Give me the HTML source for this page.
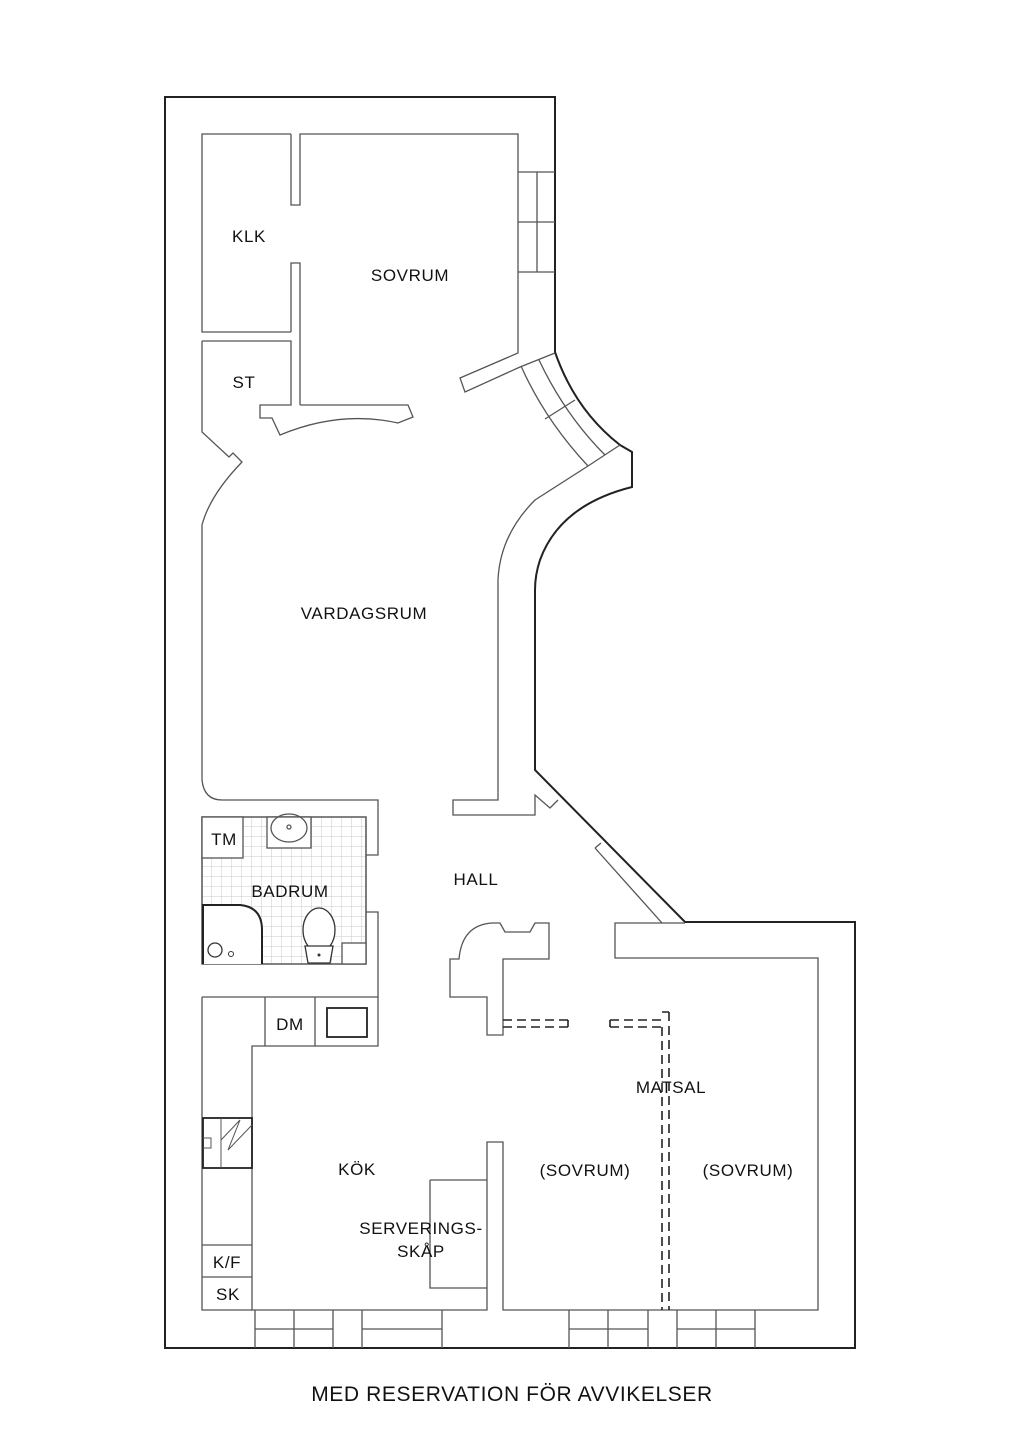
<!DOCTYPE html>
<html><head><meta charset="utf-8"><style>
html,body{margin:0;padding:0;background:#fff}
svg{display:block}
text{font-family:"Liberation Sans",sans-serif;font-size:17px;fill:#111;text-anchor:middle;letter-spacing:0.6px}
</style></head><body>
<svg width="1024" height="1448" viewBox="0 0 1024 1448" xmlns="http://www.w3.org/2000/svg">
<defs>
<pattern id="tile" width="10" height="10" patternUnits="userSpaceOnUse" x="202" y="817">
<path d="M10 0V10M0 10H10" stroke="#c8c8c8" stroke-width="1" fill="none"/>
</pattern>
</defs>
<path d="M165 97 H555 V352 Q575 410 620 445 L632 452 V487 Q560 505 540 560 Q535 575 535 590 V770 L685 922 H855 V1348 H165 Z" fill="none" stroke="#222" stroke-width="2"/>
<g fill="none" stroke="#555" stroke-width="1.3">
<path d="M291 134 H202 V332 H291"/>
<path d="M291 134 V205 H300 V134 H518 V353 L460 378 L465 392 L520 367 L555 353"/>
<path d="M291 332 V263 H300 V405"/>
<path d="M202 341 H291 V405 H260 V418 H272 L280 435 Q340 410 398 423 L413 417 L408 405 H300"/>
<path d="M202 341 V432 L229 457 L233 453 L242 462 Q210 495 202 525 V780 Q204 800 222 800 H378 V855 H366"/>
<path d="M518 172 H555 M518 222 H555 M518 272 H555 M537 172 V272"/>
<path d="M521 366 Q545 420 588 466 M539 360 Q565 415 605 455 M545 419 L575 400 M588 466 L620 445"/>
<path d="M588 466 L535 500 Q500 535 498 580 V800 H453 V815 H535 V795 L550 808 L558 800"/>
<path d="M595 848 L601 843 M595 848 L662 923"/>
<rect x="202" y="817" width="164" height="147" fill="url(#tile)"/>
<path d="M202 817 H366 V964 H202 Z"/>
<path d="M366 912 H378 V997"/>
<rect x="202" y="817" width="41" height="41" fill="#fff"/>
<rect x="267" y="817" width="44" height="31" fill="#fff"/>
<ellipse cx="289" cy="828" rx="18" ry="14"/>
<circle cx="289" cy="827" r="2"/>
<rect x="342" y="943" width="24" height="21" fill="#fff"/>
<path d="M202 997 H378 V1046 H252 V1310 H487 V1142 H503 V1310 H818 V958 H615 V923 H685"/>
<path d="M202 997 V1310 H252 M265 997 V1046 M315 997 V1046"/>
<rect x="327" y="1008" width="40" height="29" stroke="#222" stroke-width="1.8"/>
<path d="M202 1245 H252 M202 1277 H252"/>
<path d="M430 1180 H487 M430 1180 V1288 H487"/>
<path d="M450 997 V959 H459 Q462 925 492 923 H500 L505 932 H530 L535 923 H549 V959 H503 V1035 H487 V997 Z"/>
<path d="M255 1310 V1348 M294 1310 V1348 M333 1310 V1348 M362 1310 V1348 M442 1310 V1348 M255 1329 H333 M362 1329 H442"/>
<path d="M569 1310 V1348 M608 1310 V1348 M648 1310 V1348 M677 1310 V1348 M716 1310 V1348 M755 1310 V1348 M569 1329 H648 M677 1329 H755"/>
</g>
<path d="M203 964 V905 H240 Q262 907 262 930 V964" fill="#fff" stroke="#222" stroke-width="2"/>
<circle cx="215" cy="950" r="7" fill="none" stroke="#333" stroke-width="1.3"/>
<circle cx="231" cy="954" r="2.5" fill="none" stroke="#333"/>
<ellipse cx="319" cy="930" rx="16" ry="22" fill="#fff" stroke="#333" stroke-width="1.3"/>
<path d="M305 946 H333 L330 963 H308 Z" fill="#fff" stroke="#333" stroke-width="1.3"/>
<circle cx="319" cy="955" r="1.5" fill="#333"/>
<rect x="203" y="1118" width="49" height="50" fill="none" stroke="#222" stroke-width="1.8"/>
<path d="M221 1118 V1168 M203 1138 H211 V1148 H203 M221 1140 L240 1120 M240 1120 L228 1150 L252 1125" fill="none" stroke="#555"/>
<g stroke="#222" stroke-width="1.6" stroke-dasharray="9 5" fill="none">
<path d="M503 1020 H568 M503 1027 H568"/>
<path d="M610 1020 H662 M610 1027 H662"/>
<path d="M662 1027 V1310 M669 1012 V1310"/>
</g>
<path d="M568 1020 V1027 M610 1020 V1027 M662 1012 H669" stroke="#222" stroke-width="1.6"/>
<text x="249" y="242">KLK</text>
<text x="410" y="281">SOVRUM</text>
<text x="244" y="388">ST</text>
<text x="364" y="619">VARDAGSRUM</text>
<text x="224" y="845">TM</text>
<text x="290" y="897">BADRUM</text>
<text x="476" y="885">HALL</text>
<text x="290" y="1030">DM</text>
<text x="671" y="1093">MATSAL</text>
<text x="357" y="1175">KÖK</text>
<text x="585" y="1176">(SOVRUM)</text>
<text x="748" y="1176">(SOVRUM)</text>
<text x="421" y="1234">SERVERINGS-</text>
<text x="421" y="1257">SKÅP</text>
<text x="227" y="1268">K/F</text>
<text x="228" y="1300">SK</text>
<text x="512" y="1401" style="font-size:21px;letter-spacing:0.6px">MED RESERVATION FÖR AVVIKELSER</text>
</svg>
</body></html>
